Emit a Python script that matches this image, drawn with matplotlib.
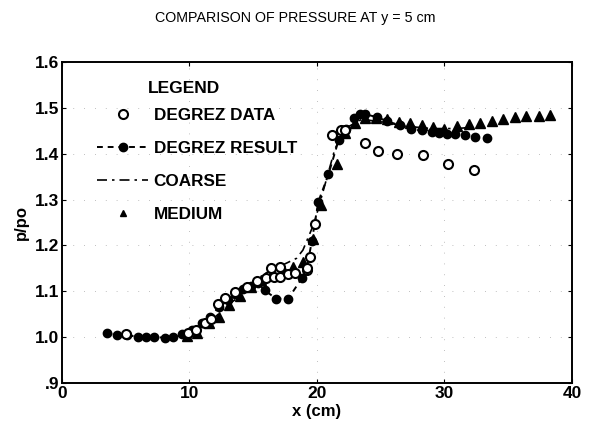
import matplotlib
matplotlib.use("Agg")
import matplotlib.pyplot as plt
from matplotlib.lines import Line2D

plt.rcParams['font.family'] = ['Liberation Sans', 'DejaVu Sans']

title = "COMPARISON OF PRESSURE AT y = 5 cm"
x_label = "x (cm)"
y_label = "p/po"
x_ticks = [0, 10, 20, 30, 40]
x_tick_labels = ["0", "10", "20", "30", "40"]
y_ticks = [0.9, 1.0, 1.1, 1.2, 1.3, 1.4, 1.5, 1.6]
y_tick_labels = [".9", "1.0", "1.1", "1.2", "1.3", "1.4", "1.5", "1.6"]

# DEGREZ DATA (open circles)
data_x = [5.0, 9.9, 10.5, 11.2, 11.7, 12.2, 12.8, 13.6, 14.5, 15.3, 16.0, 16.4, 16.6,
          17.1, 17.1, 17.7, 18.3, 19.2, 19.2, 19.45, 19.85, 21.15, 21.9, 22.2,
          23.8, 24.8, 26.3, 28.3, 30.3, 32.3]
data_y = [1.007, 1.008, 1.015, 1.03, 1.04, 1.072, 1.085, 1.098, 1.11, 1.122, 1.128, 1.15, 1.131,
          1.131, 1.153, 1.137, 1.139, 1.146, 1.15, 1.175, 1.246, 1.44, 1.452, 1.452,
          1.423, 1.405, 1.400, 1.398, 1.378, 1.364]

# DEGREZ RESULT (filled circles, dashed line)
result_x = [3.5, 4.3, 5.1, 6.0, 6.6, 7.2, 8.1, 8.7, 9.45, 10.2, 10.95, 11.6, 12.3, 13.0,
            13.6, 14.2, 14.8, 15.4, 15.9, 16.8, 17.75, 18.8, 19.2, 19.6, 20.1, 20.9,
            21.7, 22.3, 22.9, 23.4, 23.8, 24.7, 25.5, 26.5, 27.4, 28.2, 29.0, 29.6,
            30.2, 30.8, 31.6, 32.4, 33.3]
result_y = [1.009, 1.004, 1.004, 1.001, 1.000, 1.000, 0.999, 1.000, 1.006, 1.015, 1.030,
            1.044, 1.065, 1.080, 1.095, 1.105, 1.112, 1.118, 1.102, 1.084, 1.084, 1.128,
            1.150, 1.210, 1.295, 1.355, 1.430, 1.455, 1.478, 1.486, 1.486, 1.480, 1.471,
            1.462, 1.455, 1.451, 1.447, 1.445, 1.444, 1.444, 1.440, 1.436, 1.434]

# COARSE (dash-dot line)
coarse_x = [8.5, 10.0, 11.5, 13.0, 14.5, 16.0, 17.5, 18.4, 18.9, 19.8, 20.6, 21.4,
            22.2, 23.5, 25.0, 27.0, 29.0, 31.0, 33.0]
coarse_y = [1.000, 1.005, 1.030, 1.070, 1.100, 1.140, 1.160, 1.172, 1.190, 1.250, 1.330,
            1.410, 1.455, 1.475, 1.470, 1.460, 1.455, 1.455, 1.460]

# MEDIUM (triangles)
medium_x = [9.8, 10.6, 11.5, 12.3, 13.1, 14.0, 14.8, 15.6, 16.5, 17.3, 18.1, 18.9, 19.7,
            20.3, 21.6, 22.2, 23.0, 23.8, 24.6, 25.5, 26.4, 27.3, 28.2, 29.1, 30.0,
            31.0, 31.9, 32.8, 33.7, 34.6, 35.5, 36.4, 37.4, 38.3]
medium_y = [1.002, 1.010, 1.030, 1.045, 1.070, 1.090, 1.110, 1.125, 1.140, 1.148, 1.153,
            1.165, 1.215, 1.288, 1.378, 1.445, 1.468, 1.478, 1.478, 1.475, 1.469, 1.466,
            1.462, 1.458, 1.455, 1.460, 1.464, 1.468, 1.471, 1.476, 1.480, 1.482, 1.483,
            1.484]

fig = plt.figure(figsize=(5.9, 4.34), dpi=100)
ax = fig.add_axes([0.105, 0.1175, 0.8645, 0.7395])

ax.plot(coarse_x, coarse_y, color='black', lw=1.2, linestyle=(0, (6, 3, 1.5, 3)), zorder=2)
ax.plot(result_x, result_y, color='black', lw=1.4, linestyle=(0, (3, 2.5)),
        marker='o', markersize=6, markerfacecolor='black', markeredgecolor='black', zorder=3)
ax.plot(medium_x, medium_y, linestyle='none', marker='^', markersize=6.5,
        color='black', zorder=4)
ax.plot(data_x, data_y, linestyle='none', marker='o', markersize=6.5,
        markerfacecolor='white', markeredgecolor='black', markeredgewidth=1.5, zorder=5)

ax.set_xlim(0, 40)
ax.set_ylim(0.9, 1.6)
ax.set_xticks(x_ticks)
ax.set_xticklabels(x_tick_labels, fontsize=12.5, fontweight='bold')
ax.set_yticks(y_ticks)
ax.set_yticklabels(y_tick_labels, fontsize=12.5, fontweight='bold')
ax.tick_params(direction='in', length=3, width=0.8, top=True, right=True, pad=2)
ax.grid(True, color='#aaaaaa', lw=0.6, linestyle=(0, (1, 12)))
for s in ax.spines.values():
    s.set_linewidth(1.4)

ax.set_xlabel(x_label, fontsize=12, fontweight='bold', labelpad=2)
ax.set_ylabel(y_label, fontsize=12, fontweight='bold', labelpad=4)
fig.suptitle(title, fontsize=10.3, y=0.975)

handles = [
    Line2D([], [], linestyle='none', marker='o', markersize=6.5, markerfacecolor='white',
           markeredgecolor='black', markeredgewidth=1.5),
    Line2D([], [], color='black', lw=1.4, linestyle=(0, (3, 2.5)), marker='o', markersize=6),
    Line2D([], [], color='black', lw=1.2, linestyle=(0, (6, 3, 1.5, 3))),
    Line2D([], [], linestyle='none', marker='^', markersize=5, color='black'),
]
labels = ["DEGREZ DATA", "DEGREZ RESULT", "COARSE", "MEDIUM"]
leg = ax.legend(handles, labels, loc='upper left', bbox_to_anchor=(0.069, 0.858),
                frameon=False, handlelength=3.0, handletextpad=0.3,
                labelspacing=1.07, borderaxespad=0, borderpad=0,
                prop={'size': 12.3, 'weight': 'bold'})
ax.text(0.169, 0.919, "LEGEND", transform=ax.transAxes, fontsize=12.5,
        fontweight='bold', ha='left', va='center')

fig.savefig("out.png", dpi=100)
